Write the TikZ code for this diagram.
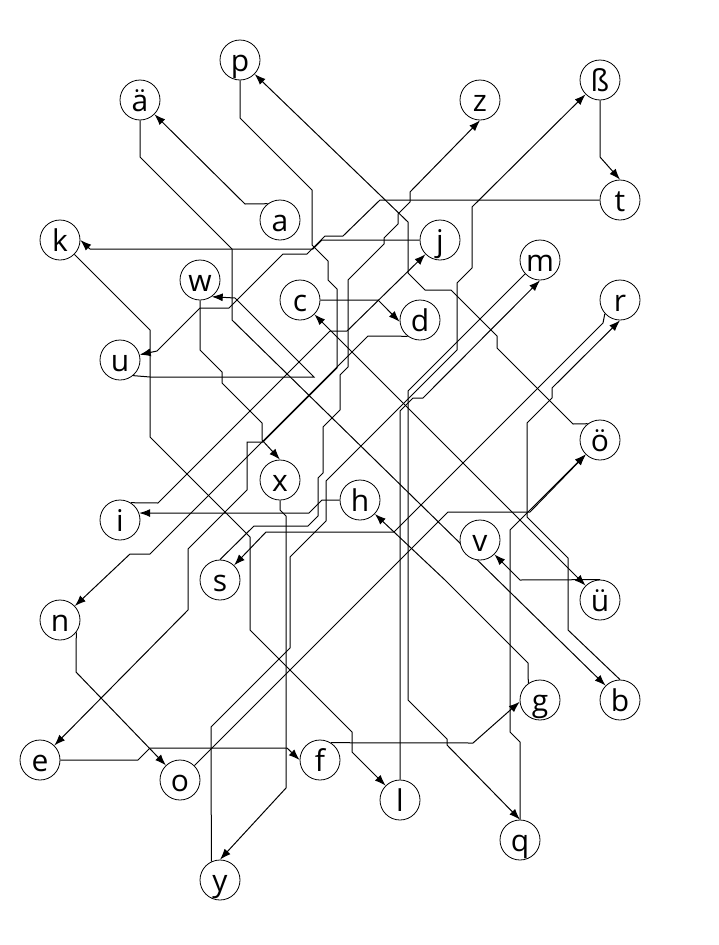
\documentclass[tikz,border=0pt]{standalone}
\usepackage{fontspec}
\setmainfont{Open Sans}
\usetikzlibrary{arrows.meta}
\pgfdeclarelayer{bg}
\pgfsetlayers{bg,main}

\begin{document}
\begin{tikzpicture}[x=1pt, y=-1pt, >={Latex[length=11pt,width=8pt]},
    vtx/.style={circle, draw, line width=0.8pt, fill=white, minimum size=40pt, inner sep=0pt,
        text height=22pt, text depth=0pt, font=\fontsize{30}{32}\selectfont},
    link/.style={->, line width=1pt}]
    \useasboundingbox (0,0) rectangle (718,945);
    % 
    \node[vtx] (p) at (240,60) {p};
    \node[vtx] (auml) at (140,100) {ä};
    \node[vtx] (z) at (480,100) {z};
    \node[vtx] (szlig) at (600,80) {ß};
    \node[vtx] (a) at (280,220) {a};
    \node[vtx] (t) at (620,200) {t};
    \node[vtx] (k) at (60,240) {k};
    \node[vtx] (j) at (440,240) {j};
    \node[vtx] (w) at (200,280) {w};
    \node[vtx] (m) at (540,260) {m};
    \node[vtx] (c) at (300,300) {c};
    \node[vtx] (d) at (420,320) {d};
    \node[vtx] (r) at (620,300) {r};
    \node[vtx] (u) at (120,360) {u};
    \node[vtx] (ouml) at (600,440) {ö};
    \node[vtx] (x) at (280,480) {x};
    \node[vtx] (h) at (360,500) {h};
    \node[vtx] (i) at (120,520) {i};
    \node[vtx] (v) at (480,540) {v};
    \node[vtx] (s) at (220,580) {s};
    \node[vtx] (uuml) at (600,600) {ü};
    \node[vtx] (n) at (60,620) {n};
    \node[vtx] (b) at (620,700) {b};
    \node[vtx] (g) at (540,700) {g};
    \node[vtx] (e) at (40,760) {e};
    \node[vtx] (o) at (180,780) {o};
    \node[vtx] (f) at (320,760) {f};
    \node[vtx] (l) at (400,800) {l};
    \node[vtx] (q) at (520,840) {q};
    \node[vtx] (y) at (220,880) {y};
    % 
    \begin{pgfonlayer}{bg}
    \draw[link] (a.127) -- (245,204) -- (auml);
    \draw[link] (ouml.127) -- (573,424) -- (497,348) -- (497,336) -- (451,290) -- (425,290) -- (408,273) -- (408,222) -- (p);
    \draw[link] (szlig.south) -- (600,157) -- (t.north);
    \draw[link] (c.east) -- (378,300) -- (d.185);
    \draw[link] (uuml.north) -- (520,580) -- (v);
    \draw[link] (e.east) -- (138,760) -- (150,748) -- (287,748) -- (f.west);
    \draw[link] (n.-37) -- (76,672) -- (o);
    \draw[link] (d.233) -- (368,336) -- (150,554) -- (130,554) -- (n);
    \draw[link] (o) -- (210,750) -- (448,512) -- (530,512) -- (ouml);
    \draw[link] (q.north) -- (520,742) -- (510,732) -- (510,530) -- (ouml);
    \draw[link] (g.125) -- (528,663) -- (445,580) -- (h);
    \draw[link] (f.58) -- (473,743) -- (g.185);
    \draw[link] (h.west) -- (322,500) -- (309,513) -- (i.20);
    \draw[link] (k) -- (150,330) -- (150,437) -- (250,537) -- (250,630) -- (342,722) -- (352,732) -- (352,752) -- (l);
    \draw[link] (j.west) -- (322,240) -- (313,249) -- (90,249) -- (k.east);
    \draw[link] (i.58) -- (158,503) -- (330,331) -- (347,331) -- (j);
    \draw[link] (x.south) -- (280,510) -- (286,516) -- (286,788) -- (y.north);
    \draw[link] (w.south) -- (200,350) -- (222,372) -- (222,383) -- (252,413) -- (262,423) -- (262,440) -- (x.north);
    \draw[link] (t.west) -- (380,200) -- (343,236) -- (325,236) -- (307,254) -- (283,254) -- (229,308) -- (200,308) -- (157,351) -- (u.15);
    \draw[link] (r.222) -- (603,323) -- (394,532) -- (266,532) -- (s);
    \draw[link] (b.north) -- (568,630) -- (568,558) -- (527,517) -- (527,423) -- (552,398) -- (552,388) -- (r.south);
    \draw[link] (l.north) -- (400,411) -- (413,398) -- (423,398) -- (m.south);
    \draw[link] (m.223) -- (408,391) -- (408,700) -- (447,739) -- (447,745) -- (q.north);
    \draw[link] (auml.south) -- (140,157) -- (232,249) -- (232,320) -- (b.135);
    \draw[link, <->] (c) -- (uuml);
    \draw[link] (u.-50) -- (150,377) -- (314,377) -- (235,298) -- (w.-55);
    \draw[link] (y.115) -- (211,727) -- (290,648) -- (290,557) -- (326,521) -- (326,481) -- (457,350) -- (457,283) -- (472,268) -- (472,207) -- (szlig);
    \draw[link] (s.north) -- (254,526) -- (308,526) -- (318,516) -- (318,478) -- (323,473) -- (323,427) -- (340,410) -- (340,375) -- (348,367) -- (348,280) -- (384,244) -- (384,238) -- (398,224) -- (398,214) -- (410,202) -- (410,192) -- (z.south);
    \draw[link] (p.south) -- (240,118) -- (312,190) -- (312,245) -- (328,261) -- (328,280) -- (337,289) -- (337,368) -- (263,442) -- (247,442) -- (247,490) -- (188,549) -- (188,610) -- (e);
    \end{pgfonlayer}
\end{tikzpicture}
\end{document}
